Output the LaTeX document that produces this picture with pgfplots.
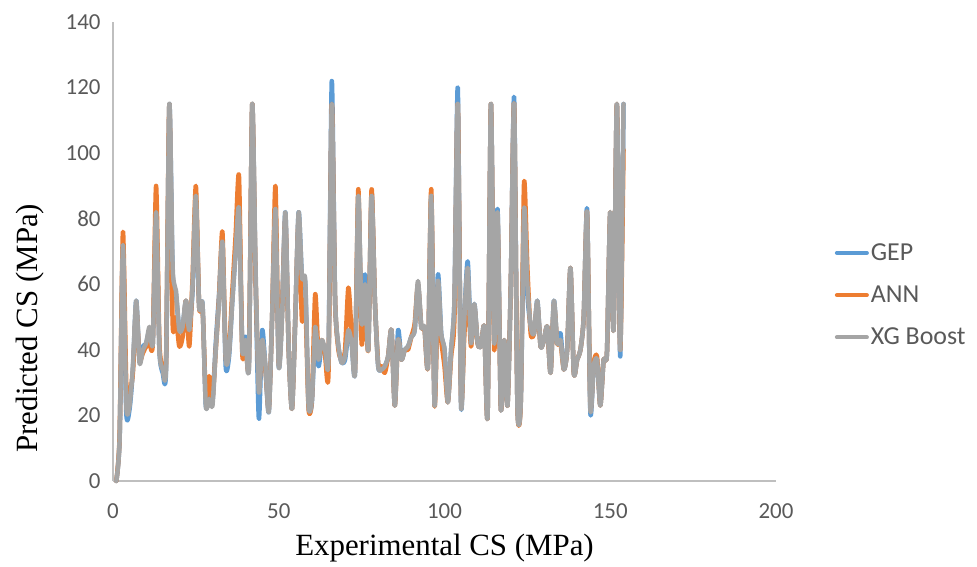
\documentclass[border=0pt]{standalone}
\usepackage{pgfplots}
\usepackage{pgfplotstable}
\pgfplotsset{compat=1.18}
\usepackage{fontspec}
\setmainfont{Liberation Serif}
\newfontfamily\carlito{Carlito}
\definecolor{gepc}{HTML}{5B9BD5}
\definecolor{annc}{HTML}{ED7D31}
\definecolor{xgc}{HTML}{A5A5A5}
\definecolor{tickc}{HTML}{595959}
\definecolor{axc}{HTML}{BFBFBF}
\pgfplotstableread{
x gep ann xgb
1 0 0 0
2 13 14 13
3 72 76 72
4 21 30 23
5 22 27 23
6 34 33 35
7 55 53 55
8 37 37 36
9 41 39 40
10 42 41 42
11 46 42 47
12 42 42 42
13 82 90 82
14 40 42 40
15 33 35 34
16 34 36 35
17 115 115 115
18 63 48 65
19 57 50 58
20 46 41 46
21 47 44 47
22 55 55 55
23 46 41 46
24 58 62 60
25 86 90 87
26 53 53 53
27 54 53 54
28 23 26 23
29 26 32 25
30 24 25 23
31 42 40 40
32 57 56 55
33 73 76 73
34 35 38 37
35 38 40 39
36 55 58 55
37 70 75 70
38 83 93 83
39 42 39 40
40 44 42 43
41 35 36 35
42 115 115 115
43 62 62 65
44 19 30 27
45 46 40 43
46 34 34 35
47 21 22 21
48 50 50 50
49 83 90 83
50 35 36 35
51 52 52 50
52 82 80 82
53 40 40 40
54 22 22 22
55 50 50 50
56 82 80 82
57 62 49 62
58 60 55 61
59 23 22 23
60 24 25 25
61 46 57 47
62 35 38 37
63 42 43 43
64 40 38 40
65 37 33 37
66 122 115 115
67 55 55 55
68 41 40 41
69 36 37 36
70 37 40 38
71 45 59 46
72 42 45 42
73 33 34 33
74 87 89 87
75 47 42 48
76 63 57 60
77 40 40 40
78 88 89 87
79 55 55 55
80 35 36 35
81 34 35 34
82 35 33 35
83 38 38 38
84 46 46 46
85 23 23 23
86 46 43 43
87 37 37 37
88 40 40 40
89 41 40 41
90 44 44 44
91 46 48 46
92 60 60 61
93 47 47 47
94 46 46 47
95 35 35 35
96 87 89 87
97 23 23 23
98 63 55 61
99 45 43 45
100 40 35 40
101 24 24 24
102 40 38 40
103 55 50 55
104 120 115 115
105 23 25 23
106 50 45 50
107 67 58 65
108 42 41 42
109 54 53 54
110 42 42 42
111 41 41 41
112 47 47 47
113 20 20 20
114 115 115 115
115 42 40 42
116 83 80 82
117 22 22 22
118 43 43 43
119 23 23 23
120 60 60 60
121 117 115 115
122 23 23 23
123 24 24 24
124 80 91 83
125 57 65 60
126 47 45 47
127 45 45 45
128 55 54 55
129 41 41 41
130 43 43 43
131 47 47 47
132 33 33 33
133 55 54 55
134 42 42 42
135 45 42 43
136 34 34 34
137 40 40 40
138 65 65 65
139 33 33 33
140 37 37 37
141 40 40 40
142 50 50 50
143 83 82 82
144 21 23 22
145 35 36 35
146 37 38 37
147 23 23 23
148 37 37 37
149 39 39 39
150 82 82 82
151 46 46 46
152 115 115 115
153 38 40 40
154 115 101 115
}\data
\begin{document}
\begin{tikzpicture}
\useasboundingbox (0,0) rectangle (977bp,567bp);
\begin{axis}[
  scale only axis,
  width=663bp, height=459bp,
  at={(113bp,86bp)}, anchor=south west,
  xmin=0, xmax=200, ymin=0, ymax=140,
  xtick={0,50,100,150,200},
  ytick={0,20,40,60,80,100,120,140},
  axis x line*=bottom, axis y line*=left,
  axis line style={draw=axc, line width=1.5bp, -},
  major tick length=0pt,
  /pgf/number format/assume math mode=true,
  ticklabel style={font=\carlito\fontsize{23}{27}\selectfont, text=tickc},
  xticklabel style={yshift=-19bp},
  yticklabel style={xshift=-9bp},
  xlabel={Experimental CS (MPa)},
  ylabel={Predicted CS (MPa)},
  label style={font=\fontsize{31}{36}\selectfont},
  xlabel style={at={(axis description cs:0.5,-0.146)}, anchor=center},
  ylabel style={at={(axis description cs:-0.125,0.333)}, anchor=center, rotate=0},
  clip=false,
  legend style={draw=none, fill=none, at={(axis description cs:1.084,0.405)}, anchor=west,
    font=\carlito\fontsize{26}{31}\selectfont, text=tickc, row sep=20bp,
    /tikz/every even column/.append style={column sep=0pt}},
  legend cell align=left,
  legend image code/.code={\draw[#1, line width=4bp] (0bp,0bp) -- (30bp,0bp);},
  every axis plot/.append style={line width=4.5bp, line join=round, line cap=round, smooth, tension=0.4},
]
\addplot[gepc] table[x=x, y=gep] {\data};
\addlegendentry{GEP}
\addplot[annc] table[x=x, y=ann] {\data};
\addlegendentry{ANN}
\addplot[xgc] table[x=x, y=xgb] {\data};
\addlegendentry{XG Boost}
\end{axis}
\end{tikzpicture}
\end{document}
